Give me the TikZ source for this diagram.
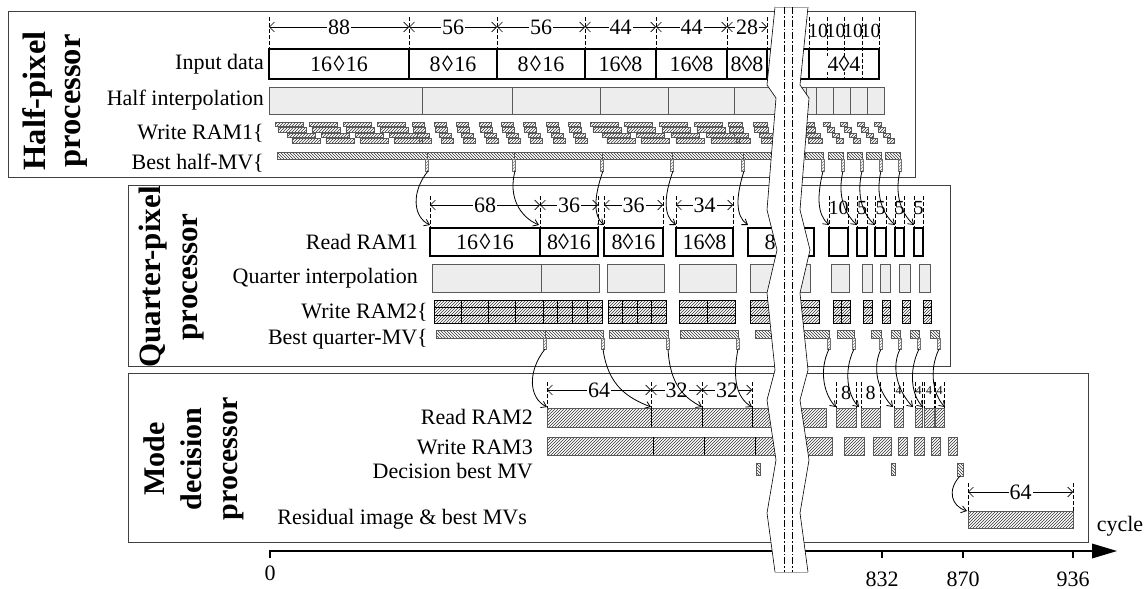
\documentclass[tikz,border=0pt]{standalone}
\usepackage{fontspec}
\setmainfont{Liberation Serif}
\usetikzlibrary{arrows.meta,patterns}
\newcommand{\lz}{\kern1.5pt◊\kern1.5pt}
\tikzset{
 procbox/.style={draw=black!75, line width=0.8pt},
 inbox/.style={draw=black, line width=1.3pt},
 rdbox/.style={draw=black, line width=1.7pt},
 interp/.style={draw=black!65, fill=black!7, line width=0.8pt},
 hatchA/.style={pattern=north east lines, pattern color=black!80, draw=black!65, line width=0.5pt},
 hatchB/.style={pattern=north west lines, pattern color=black!80, draw=black!65, line width=0.5pt},
 hatchgrid/.style={pattern=north east lines, pattern color=black!80, draw=black, line width=0.7pt},
 tickstrip/.style={pattern=north east lines, pattern color=black!55, draw=black!55, line width=0.4pt},
 dimtick/.style={dash pattern=on 4pt off 2pt, line width=0.8pt},
 dimline/.style={{Straight Barb[length=5pt,width=10pt]}-{Straight Barb[length=5pt,width=10pt]}, line width=0.6pt},
 dimlab/.style={fill=white, inner sep=1pt, font=\fontsize{22}{22}\selectfont},
 smalllab/.style={inner sep=0pt, font=\fontsize{20}{20}\selectfont},
 tinylab/.style={inner sep=0pt, font=\fontsize{12}{12}\selectfont},
 rowlab/.style={anchor=east, inner sep=0pt, font=\fontsize{22}{24}\selectfont},
 boxtxt/.style={inner sep=0.5pt, font=\fontsize{22}{24}\selectfont},
 proclab/.style={rotate=90, align=center, inner sep=0pt},
 flow/.style={-{Straight Barb[length=5pt,width=7pt]}, line width=0.8pt},
 bandedge/.style={draw=black, line width=0.6pt},
 dashdot/.style={dash pattern=on 7pt off 2pt on 1.5pt off 2pt, line width=0.8pt},
}
\begin{document}
\begin{tikzpicture}[x=1pt,y=-1pt]
\useasboundingbox (0,0) rectangle (1146,589);
\fill[white] (0,0) rectangle (1146,589);

% ================= processor frames =================
\draw[procbox] (8,11) rectangle (915,177);
\draw[procbox] (128,185) rectangle (950,366);
\draw[procbox] (128,373) rectangle (1088,542);

\node[proclab, font=\bfseries\fontsize{32.5}{35}\selectfont] (hpl) at (55,101) {Half-pixel\\processor};
\node[proclab, font=\bfseries\fontsize{31}{37}\selectfont] (qpl) at (172,277) {Quarter-pixel\\processor};
\node[proclab, font=\bfseries\fontsize{30}{36.5}\selectfont] (mdl) at (194,459) {Mode\\decision\\processor};

% ================= half-pixel processor =================
\node[rowlab] (l1) at (264,64) {Input data};
\node[rowlab] (l2) at (264,100) {Half interpolation};
\node[rowlab] (l3) at (264,133) {Write RAM1\{};
\node[rowlab] (l4) at (264,163) {Best half-MV\{};

% dimensions
\foreach \x in {269,409,497,585,656,727,767} \draw[dimtick] (\x,17) -- (\x,49);
\foreach \a/\b/\l in {269/409/88, 409/497/56, 497/585/56, 585/656/44, 656/727/44, 727/767/28} {
  \draw[dimline] (\a,27) -- (\b,27);
  \node[dimlab] at ({(\a+\b)/2},27) {\l};
}
% input boxes
\foreach \a/\b in {269/409,409/497,497/585,585/656,656/727,727/767,767/809,809/879}
  \draw[inbox] (\a,49) rectangle (\b,79);
\foreach \x in {809,827,844,862,879} \draw[dimtick] (\x,17) -- (\x,79);
\foreach \x in {818,835.5,853,870.5} \node[smalllab] at (\x,31) {10};
\node[boxtxt] at (339,64) {16\lz16};
\node[boxtxt] at (453,64) {8\lz16};
\node[boxtxt] at (541,64) {8\lz16};
\node[boxtxt] at (620.5,64) {16◊8};
\node[boxtxt] at (691.5,64) {16◊8};
\node[boxtxt] at (747,64) {8◊8};
\node[boxtxt, fill=white] at (844,64) {4◊4};

% half interpolation
\foreach \a/\b in {269/422,422/512,512/600,600/668,668/734,734/806,806/816,816/833,833/850,850/867,867/884}
  \draw[interp] (\a,87) rectangle (\b,114);

% write RAM1 (staggered)
\foreach \x/\w in {275/28,309/28,343/28,377/28,412/12,434/12,456/12,479/12,501/12,523/12,546/12,568/12,590/28,624/28,659/28,694/28,728/14,753/14,800/14} {
  \foreach \r/\o in {0/0,1/0.1,2/0.45,3/0.6}
    \draw[hatchA] ({\x+\o*\w},{122+\r*5.5}) rectangle ++(\w,4.5);
}
\foreach \x in {823,840,857,874} {
  \foreach \r/\o in {0/0,1/4,2/9,3/13}
    \draw[hatchA] ({\x+\o},{122+\r*5.5}) rectangle ++(7,4.5);
}

% best half-MV
\foreach \a/\b in {277/427,427/514,514/602,602/672,672/743,743/800,805/823,828/843,847/862,866/881,885/900}
  \draw[hatchB] (\a,152) rectangle (\b,159);
\foreach \x in {427,514,602,672,743,823,843,862,881,900}
  \draw[tickstrip] (\x-1.5,159) rectangle (\x+1.5,171);

% ================= quarter-pixel processor =================
\node[rowlab] (q1) at (418,242) {Read RAM1};
\node[rowlab] (q2) at (418,278) {Quarter interpolation};
\node[rowlab] (q3) at (428,312) {Write RAM2\{};
\node[rowlab] (q4) at (428,339) {Best quarter-MV\{};

\foreach \x in {430,540,598,604,663,676,733,829,848,857,867,875,886,895,904,914,923}
  \draw[dimtick] (\x,196) -- (\x,228);
\foreach \a/\b/\l in {430/540/68, 540/598/36, 604/663/36, 676/733/34} {
  \draw[dimline] (\a,205) -- (\b,205);
  \node[dimlab] at ({(\a+\b)/2},205) {\l};
}
\node[smalllab] at (838.5,208) {10};
\foreach \x in {862,880.5,899.5,918.5} \node[smalllab] at (\x,208) {5};

\foreach \a/\b in {430/540,540/598,604/663,676/733,748/814,829/848,857/867,875/886,895/904,914/923}
  \draw[rdbox] (\a,228) rectangle (\b,256);
\node[boxtxt] at (485,242) {16\lz16};
\node[boxtxt] at (569,242) {8◊16};
\node[boxtxt] at (633.5,242) {8◊16};
\node[boxtxt] at (704.5,242) {16◊8};
\node[boxtxt] at (781,242) {8◊8};

\foreach \a/\b in {432/541,541/599,607/664,679/736,750/810,831/849,862/872,880/890,899/910,919/930}
  \draw[interp] (\a,264) rectangle (\b,292);

\foreach \a/\b/\n in {434/543/4,543/602/4,608/666/4,679/735/2,750/819/3,833/850/2,863/872/1,882/890/1,902/910/1,923/931/1} {
  \foreach \i in {1,...,\n} {
    \foreach \r in {0,1,2}
      \draw[hatchgrid] ({\a+(\i-1)*(\b-\a)/\n},{300+\r*23/3}) rectangle ({\a+\i*(\b-\a)/\n},{300+(\r+1)*23/3});
  }
}

\foreach \a/\b in {436/545,545/603,609/668,680/738,755/829,837/854,871/881,891/900,910/919,930/939}
  \draw[hatchB] (\a,330) rectangle (\b,338);
\foreach \x in {545,603,668,738,829,854,881,900,919,939}
  \draw[tickstrip] (\x-1.5,338) rectangle (\x+1.5,349);

% ================= mode decision processor =================
\node[rowlab] (m1) at (533,417) {Read RAM2};
\node[rowlab] (m2) at (533,447) {Write RAM3};
\node[rowlab] (m3) at (533,471) {Decision best MV};
\node[rowlab] (m4) at (527,519) {Residual image \& best MVs};

\foreach \x in {547,651,702,752,836,856,861,880,894,903,915,922,924,934,935,944}
  \draw[dimtick] (\x,382) -- (\x,408);
\foreach \a/\b/\l in {547/651/64, 651/702/32, 702/752/32} {
  \draw[dimline] (\a,390) -- (\b,390);
  \node[dimlab] at ({(\a+\b)/2},390) {\l};
}
\node[smalllab] at (846,393) {8};
\node[smalllab] at (870.5,393) {8};
\foreach \x in {898.5,918.5,929,939.5} \node[tinylab] at (\x,391) {4};

\foreach \a/\b in {547/826,836/856,861/880,894/903,915/922,924/934,935/944}
  \draw[hatchA] (\a,408) rectangle (\b,427);
\foreach \x in {651,702,752} \draw[line width=0.8pt] (\x,408) -- (\x,427);

\foreach \a/\b in {547/832,844/864,873/891,898/907,914/924,931/940,948/957}
  \draw[hatchA] (\a,437) rectangle (\b,455);
\foreach \x in {653,704,755} \draw[line width=0.8pt] (\x,437) -- (\x,455);

\draw[hatchB] (756,463) rectangle (760,475);
\draw[hatchB] (891,463) rectangle (895,475);
\draw[hatchB] (957,463) rectangle (963,476);

\draw[dimtick] (968,483) -- (968,511);
\draw[dimtick] (1073,483) -- (1073,511);
\draw[dimline] (968,492) -- (1073,492);
\node[dimlab] at (1020.5,492) {64};
\draw[hatchA] (968,511) rectangle (1073,528);

% ================= flow arrows =================
\draw[flow] (428,171) .. controls (411,192) and (413,217) .. (430,225);
\draw[flow] (515,171) .. controls (508,197) and (520,217) .. (539,225);
\draw[flow] (603,171) .. controls (594,196) and (593,216) .. (604,225);
\draw[flow] (673,171) .. controls (664,196) and (663,216) .. (676,225);
\draw[flow] (744,171) .. controls (736,196) and (735,216) .. (748,225);
\foreach \s/\t in {823/829,843/857,862/875,881/895,900/914}
  \draw[flow] (\s,171) .. controls (\s-6,196) and (\t-12,214) .. (\t,225);

\draw[flow] (545,349) .. controls (527,372) and (529,398) .. (547,407);
\draw[flow] (603,349) .. controls (608,386) and (628,398) .. (651,407);
\draw[flow] (668,349) .. controls (670,386) and (685,398) .. (702,407);
\draw[flow] (738,349) .. controls (732,380) and (737,398) .. (752,407);
\foreach \s/\t in {829/836,854/859,881/893,900/913,919/923,939/945}
  \draw[flow] (\s,349) .. controls (\s-11,372) and (\t-11,396) .. (\t,407);

\draw[flow] (960,476) .. controls (947,490) and (951,506) .. (967,511);

% ================= time axis =================
\draw[line width=1.6pt] (270,558) -- (270,551) -- (1095,551);
\fill (1092,543.5) -- (1117,551) -- (1092,558.5) -- cycle;
\foreach \x in {882,963,1073} \draw[line width=1.2pt] (\x,551) -- (\x,558);
\node[boxtxt] (t0) at (270,573) {0};
\node[boxtxt] (t1) at (882,579) {832};
\node[boxtxt] (t2) at (963,579) {870};
\node[boxtxt] (t3) at (1073,579) {936};
\node[boxtxt] (cyc) at (1120,526) {cycle};

% ================= break band =================
\fill[white] (775,7) -- (767,85) -- (776,98) -- (767,210) -- (777,250) -- (767,293) -- (775,370) -- (767,400) -- (776,460) -- (767,513) -- (775,572)
  -- (808,572) -- (800,513) -- (809,460) -- (800,400) -- (808,370) -- (800,293) -- (810,250) -- (800,210) -- (809,98) -- (800,85) -- (808,7) -- cycle;
\draw[bandedge] (775,7) -- (767,85) -- (776,98) -- (767,210) -- (777,250) -- (767,293) -- (775,370) -- (767,400) -- (776,460) -- (767,513) -- (775,572);
\draw[bandedge] (808,7) -- (800,85) -- (809,98) -- (800,210) -- (810,250) -- (800,293) -- (808,370) -- (800,400) -- (809,460) -- (800,513) -- (808,572);
\draw[black!35, line width=0.8pt] (775,7) -- (808,7);
\draw[black!35, line width=0.8pt] (775,572) -- (808,572);
\draw[dashdot] (784,7) -- (784,572);
\draw[dashdot] (792,7) -- (792,572);
\end{tikzpicture}
\end{document}
